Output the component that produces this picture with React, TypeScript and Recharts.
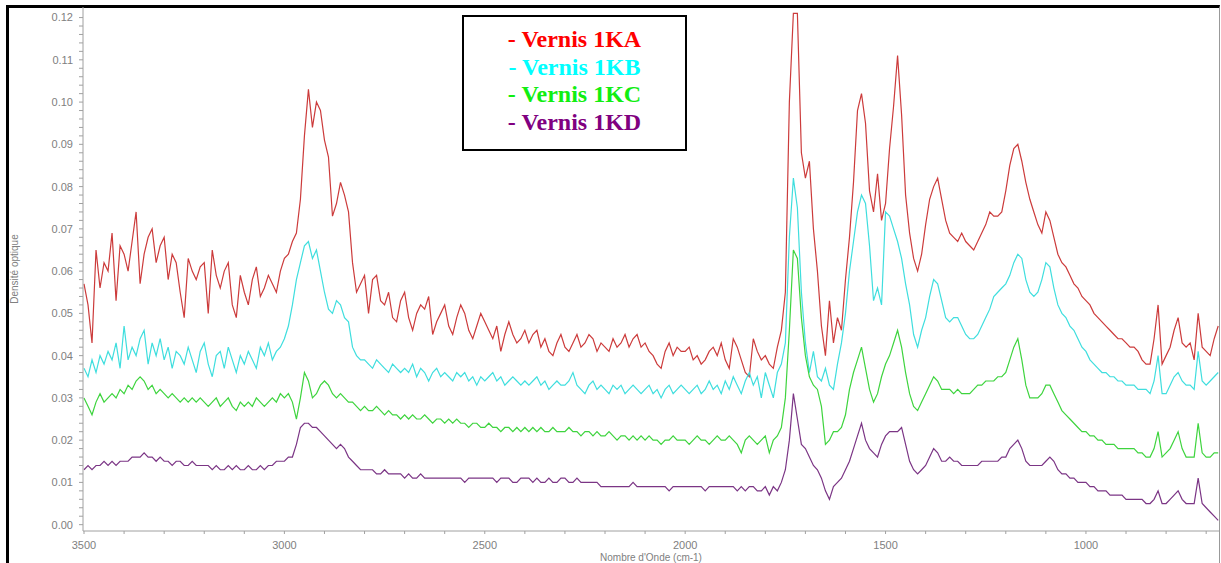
import React from "react";
import { LineChart, Line, XAxis, YAxis, Legend, Label } from "recharts";

// FTIR spectra of four varnish samples, sampled every 10 cm-1 from 3500 down to 670
const wavenumbers = Array.from({ length: 284 }, (_, i) => 3500 - i * 10);

const vernis1KA = [
  0.057, 0.052, 0.043, 0.065, 0.056, 0.062, 0.060, 0.069, 0.053, 0.066,
  0.064, 0.060, 0.067, 0.074, 0.057, 0.064, 0.068, 0.070, 0.062, 0.066,
  0.068, 0.058, 0.064, 0.062, 0.055, 0.049, 0.063, 0.060, 0.058, 0.061,
  0.062, 0.050, 0.065, 0.059, 0.056, 0.060, 0.062, 0.052, 0.049, 0.059,
  0.055, 0.052, 0.058, 0.061, 0.054, 0.056, 0.059, 0.057, 0.055, 0.060,
  0.063, 0.064, 0.067, 0.069, 0.077, 0.092, 0.103, 0.094, 0.100, 0.098,
  0.091, 0.087, 0.073, 0.076, 0.081, 0.078, 0.074, 0.062, 0.055, 0.057,
  0.059, 0.050, 0.058, 0.059, 0.053, 0.052, 0.055, 0.049, 0.048, 0.053,
  0.055, 0.049, 0.046, 0.050, 0.052, 0.051, 0.054, 0.045, 0.048, 0.050,
  0.052, 0.047, 0.045, 0.049, 0.052, 0.050, 0.046, 0.044, 0.047, 0.050,
  0.048, 0.046, 0.044, 0.047, 0.041, 0.045, 0.048, 0.045, 0.043, 0.044,
  0.046, 0.043, 0.045, 0.046, 0.042, 0.044, 0.041, 0.040, 0.043, 0.045,
  0.042, 0.041, 0.043, 0.045, 0.042, 0.043, 0.045, 0.044, 0.041, 0.043,
  0.042, 0.041, 0.044, 0.042, 0.043, 0.045, 0.042, 0.044, 0.045, 0.042,
  0.043, 0.041, 0.040, 0.038, 0.037, 0.041, 0.043, 0.040, 0.042, 0.041,
  0.041, 0.042, 0.039, 0.040, 0.038, 0.039, 0.041, 0.042, 0.040, 0.043,
  0.039, 0.037, 0.044, 0.042, 0.039, 0.036, 0.035, 0.044, 0.041, 0.039,
  0.040, 0.038, 0.037, 0.042, 0.046, 0.055, 0.100, 0.121, 0.121, 0.088,
  0.082, 0.086, 0.070, 0.060, 0.047, 0.040, 0.053, 0.043, 0.049, 0.046,
  0.058, 0.068, 0.081, 0.098, 0.102, 0.095, 0.079, 0.074, 0.083, 0.072,
  0.076, 0.089, 0.099, 0.111, 0.097, 0.078, 0.069, 0.063, 0.060, 0.064,
  0.071, 0.077, 0.080, 0.082, 0.077, 0.072, 0.069, 0.068, 0.067, 0.069,
  0.067, 0.066, 0.065, 0.067, 0.069, 0.071, 0.074, 0.073, 0.073, 0.074,
  0.079, 0.085, 0.089, 0.090, 0.086, 0.081, 0.077, 0.074, 0.071, 0.069,
  0.074, 0.072, 0.068, 0.064, 0.062, 0.061, 0.059, 0.057, 0.056, 0.054,
  0.053, 0.052, 0.050, 0.049, 0.048, 0.047, 0.046, 0.045, 0.044, 0.044,
  0.043, 0.042, 0.042, 0.041, 0.039, 0.038, 0.038, 0.044, 0.052, 0.038,
  0.040, 0.042, 0.046, 0.049, 0.043, 0.042, 0.043, 0.039, 0.050, 0.042,
  0.041, 0.040, 0.044, 0.047,
];

const vernis1KB = [
  0.037, 0.035, 0.039, 0.036, 0.040, 0.038, 0.041, 0.039, 0.043, 0.037,
  0.047, 0.039, 0.042, 0.040, 0.044, 0.046, 0.038, 0.043, 0.040, 0.044,
  0.039, 0.042, 0.037, 0.041, 0.040, 0.038, 0.042, 0.039, 0.036, 0.041,
  0.043, 0.038, 0.035, 0.040, 0.041, 0.037, 0.042, 0.039, 0.036, 0.040,
  0.038, 0.041, 0.039, 0.037, 0.042, 0.040, 0.043, 0.039, 0.041, 0.042,
  0.044, 0.047, 0.052, 0.058, 0.062, 0.066, 0.067, 0.063, 0.065, 0.060,
  0.055, 0.051, 0.050, 0.053, 0.052, 0.049, 0.048, 0.042, 0.040, 0.039,
  0.039, 0.038, 0.037, 0.039, 0.038, 0.037, 0.036, 0.038, 0.037, 0.036,
  0.037, 0.036, 0.038, 0.035, 0.037, 0.036, 0.034, 0.036, 0.037, 0.035,
  0.036, 0.035, 0.034, 0.036, 0.035, 0.036, 0.034, 0.035, 0.033, 0.035,
  0.034, 0.035, 0.036, 0.034, 0.035, 0.033, 0.034, 0.035, 0.034, 0.033,
  0.034, 0.033, 0.034, 0.035, 0.033, 0.034, 0.032, 0.033, 0.034, 0.033,
  0.033, 0.034, 0.036, 0.033, 0.032, 0.031, 0.033, 0.034, 0.032, 0.033,
  0.032, 0.031, 0.033, 0.032, 0.033, 0.031, 0.032, 0.033, 0.032, 0.031,
  0.032, 0.033, 0.031, 0.032, 0.030, 0.032, 0.033, 0.031, 0.032, 0.033,
  0.032, 0.031, 0.032, 0.033, 0.031, 0.032, 0.034, 0.032, 0.033, 0.031,
  0.034, 0.032, 0.035, 0.033, 0.031, 0.034, 0.036, 0.033, 0.035, 0.030,
  0.036, 0.033, 0.030, 0.036, 0.038, 0.043, 0.068, 0.082, 0.075, 0.055,
  0.043, 0.036, 0.041, 0.035, 0.034, 0.037, 0.033, 0.032, 0.038, 0.043,
  0.050, 0.060, 0.067, 0.074, 0.078, 0.076, 0.066, 0.053, 0.056, 0.052,
  0.074, 0.073, 0.070, 0.067, 0.063, 0.057, 0.052, 0.045, 0.042, 0.046,
  0.049, 0.054, 0.058, 0.057, 0.053, 0.049, 0.048, 0.049, 0.049, 0.047,
  0.045, 0.044, 0.044, 0.045, 0.047, 0.049, 0.051, 0.054, 0.055, 0.056,
  0.057, 0.059, 0.062, 0.064, 0.063, 0.058, 0.055, 0.054, 0.055, 0.058,
  0.062, 0.061, 0.056, 0.052, 0.050, 0.049, 0.047, 0.046, 0.044, 0.042,
  0.041, 0.039, 0.038, 0.037, 0.036, 0.036, 0.035, 0.035, 0.034, 0.034,
  0.033, 0.033, 0.033, 0.032, 0.032, 0.032, 0.031, 0.034, 0.040, 0.031,
  0.031, 0.033, 0.035, 0.036, 0.034, 0.033, 0.033, 0.032, 0.041, 0.034,
  0.033, 0.034, 0.035, 0.036,
];

const vernis1KC = [
  0.030, 0.028, 0.026, 0.029, 0.031, 0.029, 0.030, 0.031, 0.030, 0.032,
  0.031, 0.033, 0.032, 0.034, 0.035, 0.034, 0.032, 0.033, 0.031, 0.032,
  0.031, 0.030, 0.031, 0.030, 0.029, 0.030, 0.029, 0.030, 0.029, 0.030,
  0.029, 0.028, 0.029, 0.030, 0.028, 0.029, 0.030, 0.028, 0.027, 0.029,
  0.028, 0.029, 0.028, 0.030, 0.029, 0.028, 0.029, 0.030, 0.029, 0.031,
  0.030, 0.031, 0.029, 0.025, 0.030, 0.036, 0.034, 0.030, 0.031, 0.033,
  0.034, 0.033, 0.031, 0.030, 0.031, 0.030, 0.029, 0.029, 0.028, 0.027,
  0.028, 0.027, 0.027, 0.028, 0.027, 0.026, 0.027, 0.026, 0.026, 0.025,
  0.026, 0.025, 0.026, 0.025, 0.025, 0.026, 0.025, 0.024, 0.025, 0.025,
  0.024, 0.025, 0.024, 0.025, 0.024, 0.024, 0.023, 0.024, 0.024, 0.023,
  0.023, 0.024, 0.023, 0.023, 0.022, 0.023, 0.023, 0.022, 0.023, 0.022,
  0.023, 0.022, 0.023, 0.022, 0.023, 0.022, 0.022, 0.023, 0.022, 0.022,
  0.022, 0.023, 0.022, 0.022, 0.021, 0.022, 0.022, 0.021, 0.022, 0.021,
  0.021, 0.022, 0.021, 0.020, 0.021, 0.021, 0.020, 0.021, 0.020, 0.021,
  0.020, 0.021, 0.020, 0.020, 0.019, 0.020, 0.020, 0.021, 0.020, 0.020,
  0.020, 0.019, 0.020, 0.021, 0.020, 0.020, 0.019, 0.020, 0.021, 0.020,
  0.020, 0.021, 0.020, 0.019, 0.017, 0.020, 0.021, 0.020, 0.019, 0.020,
  0.021, 0.017, 0.020, 0.021, 0.023, 0.030, 0.046, 0.065, 0.063, 0.049,
  0.040, 0.035, 0.033, 0.032, 0.028, 0.019, 0.020, 0.022, 0.022, 0.023,
  0.026, 0.032, 0.036, 0.039, 0.042, 0.037, 0.032, 0.029, 0.031, 0.035,
  0.038, 0.040, 0.043, 0.046, 0.042, 0.036, 0.031, 0.028, 0.027, 0.029,
  0.031, 0.033, 0.035, 0.034, 0.032, 0.032, 0.032, 0.031, 0.032, 0.031,
  0.031, 0.031, 0.032, 0.033, 0.033, 0.034, 0.034, 0.034, 0.035, 0.035,
  0.036, 0.039, 0.042, 0.044, 0.039, 0.033, 0.030, 0.030, 0.030, 0.031,
  0.033, 0.033, 0.031, 0.029, 0.027, 0.026, 0.025, 0.024, 0.023, 0.022,
  0.022, 0.021, 0.021, 0.020, 0.020, 0.019, 0.019, 0.019, 0.018, 0.018,
  0.018, 0.018, 0.018, 0.017, 0.017, 0.016, 0.016, 0.018, 0.022, 0.016,
  0.017, 0.018, 0.020, 0.022, 0.018, 0.016, 0.016, 0.016, 0.024, 0.017,
  0.016, 0.016, 0.017, 0.017,
];

const vernis1KD = [
  0.013, 0.014, 0.013, 0.014, 0.014, 0.015, 0.014, 0.015, 0.014, 0.015,
  0.015, 0.015, 0.016, 0.016, 0.016, 0.017, 0.016, 0.016, 0.015, 0.016,
  0.015, 0.015, 0.014, 0.015, 0.015, 0.014, 0.014, 0.015, 0.014, 0.014,
  0.014, 0.014, 0.013, 0.014, 0.013, 0.013, 0.014, 0.013, 0.014, 0.013,
  0.013, 0.014, 0.013, 0.013, 0.014, 0.013, 0.014, 0.014, 0.015, 0.015,
  0.015, 0.016, 0.016, 0.019, 0.023, 0.024, 0.024, 0.023, 0.023, 0.022,
  0.021, 0.020, 0.019, 0.018, 0.019, 0.018, 0.016, 0.015, 0.014, 0.013,
  0.013, 0.013, 0.013, 0.012, 0.012, 0.013, 0.012, 0.012, 0.012, 0.012,
  0.011, 0.012, 0.011, 0.011, 0.012, 0.011, 0.011, 0.011, 0.011, 0.011,
  0.011, 0.011, 0.011, 0.011, 0.011, 0.010, 0.011, 0.011, 0.011, 0.011,
  0.011, 0.011, 0.011, 0.010, 0.011, 0.011, 0.011, 0.010, 0.010, 0.011,
  0.011, 0.011, 0.010, 0.011, 0.010, 0.010, 0.011, 0.010, 0.010, 0.011,
  0.011, 0.010, 0.010, 0.011, 0.010, 0.010, 0.010, 0.010, 0.010, 0.009,
  0.009, 0.009, 0.009, 0.009, 0.009, 0.009, 0.009, 0.010, 0.009, 0.009,
  0.009, 0.009, 0.009, 0.009, 0.009, 0.009, 0.008, 0.009, 0.009, 0.009,
  0.009, 0.009, 0.009, 0.009, 0.009, 0.008, 0.009, 0.009, 0.009, 0.009,
  0.009, 0.009, 0.009, 0.008, 0.009, 0.008, 0.009, 0.009, 0.008, 0.008,
  0.009, 0.007, 0.009, 0.008, 0.010, 0.013, 0.020, 0.031, 0.025, 0.019,
  0.018, 0.016, 0.014, 0.013, 0.011, 0.008, 0.006, 0.009, 0.010, 0.011,
  0.013, 0.015, 0.018, 0.021, 0.024, 0.020, 0.018, 0.017, 0.016, 0.019,
  0.021, 0.022, 0.022, 0.022, 0.023, 0.019, 0.015, 0.013, 0.012, 0.013,
  0.014, 0.016, 0.018, 0.017, 0.015, 0.015, 0.016, 0.015, 0.015, 0.014,
  0.014, 0.014, 0.014, 0.014, 0.015, 0.015, 0.015, 0.015, 0.015, 0.016,
  0.016, 0.018, 0.019, 0.020, 0.018, 0.015, 0.014, 0.014, 0.014, 0.014,
  0.015, 0.016, 0.015, 0.013, 0.012, 0.012, 0.011, 0.011, 0.010, 0.010,
  0.010, 0.009, 0.009, 0.008, 0.008, 0.008, 0.007, 0.007, 0.007, 0.007,
  0.006, 0.006, 0.006, 0.006, 0.006, 0.005, 0.005, 0.006, 0.008, 0.005,
  0.005, 0.006, 0.007, 0.008, 0.006, 0.005, 0.005, 0.005, 0.011, 0.005,
  0.004, 0.003, 0.002, 0.001,
];

const seriesNames = ["Vernis 1KA", "Vernis 1KB", "Vernis 1KC", "Vernis 1KD"];
const lineColors = ["#cc3b3b", "#3fdede", "#3ed43e", "#7b3585"];
const legendColors = ["#ff0000", "#00ffff", "#11ee11", "#800080"];

const xTicks = [
  3500, 3400, 3300, 3200, 3100, 3000, 2900, 2800, 2700, 2600, 2500, 2400, 2300, 2200,
  2100, 2000, 1900, 1800, 1700, 1600, 1500, 1400, 1300, 1200, 1100, 1000, 900, 800, 700,
];
const yMajorTicks = [0, 0.01, 0.02, 0.03, 0.04, 0.05, 0.06, 0.07, 0.08, 0.09, 0.1, 0.11, 0.12];

// minor ticks every 0.002 between the labelled ones
const yTicks = yMajorTicks.flatMap((t, i) =>
  i === yMajorTicks.length - 1
    ? [t]
    : [0, 0.002, 0.004, 0.006, 0.008].map((d) => Math.round((t + d) * 1000) / 1000)
);

const data = wavenumbers.map((wn, i) => ({
  wn,
  ka: vernis1KA[i],
  kb: vernis1KB[i],
  kc: vernis1KC[i],
  kd: vernis1KD[i],
}));

const axisFont = { fontFamily: '"Liberation Sans", Arial, sans-serif', fontSize: 11, fill: "#808080" };

const renderLegend = (props: any) => {
  const { payload = [] } = props;
  return (
    <div
      style={{
        boxSizing: "border-box",
        width: 225,
        height: 136,
        border: "2px solid #000",
        background: "#fff",
        paddingTop: 9,
        fontFamily: '"Liberation Serif", "Times New Roman", serif',
        fontWeight: "bold",
        fontSize: 24,
        lineHeight: "27.7px",
        textAlign: "center",
      }}
    >
      {payload.map((p: any, i: number) => (
        <div key={i} style={{ color: legendColors[i] }}>
          - {p.value}
        </div>
      ))}
    </div>
  );
};

export default function App() {
  return (
    <div style={{ position: "absolute", left: 0, top: 0, width: 1221, height: 563, overflow: "hidden", background: "#fff" }}>
      <div
        style={{
          position: "absolute",
          left: 6,
          top: 5,
          width: 1210,
          height: 600,
          borderLeft: "3px solid #000",
          borderTop: "3px solid #000",
          borderRight: "1px solid #999",
        }}
      />
      <div style={{ position: "absolute", left: 0, top: 0 }}>
        <LineChart width={1221} height={563} data={data} margin={{ top: 7, right: 2, bottom: 0, left: 0 }}>
          <XAxis
            type="number"
            dataKey="wn"
            domain={[668, 3502.5]}
            reversed
            ticks={xTicks}
            interval={0}
            tickFormatter={(v: number) => (v % 500 === 0 ? String(v) : "")}
            height={32}
            tickSize={3}
            tickMargin={7}
            stroke="#a0a0a0"
            tick={axisFont}
            allowDataOverflow
          >
            <Label value="Nombre d'Onde (cm-1)" position="insideBottom" offset={2} style={{ ...axisFont, fontSize: 10 }} />
          </XAxis>
          <YAxis
            type="number"
            domain={[-0.0015, 0.1225]}
            ticks={yTicks}
            interval={0}
            tickFormatter={(v: number) => (Math.round(v * 1000) % 10 === 0 ? v.toFixed(2) : "")}
            width={83}
            tickSize={4}
            tickMargin={6}
            stroke="#a0a0a0"
            tick={axisFont}
            allowDataOverflow
          >
            <Label
              value="Densité optique"
              angle={-90}
              position="insideLeft"
              offset={14}
              style={{ ...axisFont, fontSize: 10, textAnchor: "middle" }}
            />
          </YAxis>
          <Legend
            layout="vertical"
            align="center"
            verticalAlign="middle"
            content={renderLegend}
            wrapperStyle={{ left: 462, top: 15, width: 225, height: 136 }}
          />
          {["ka", "kb", "kc", "kd"].map((key, i) => (
            <Line
              key={key}
              type="linear"
              dataKey={key}
              name={seriesNames[i]}
              stroke={lineColors[i]}
              strokeWidth={1.2}
              dot={false}
              isAnimationActive={false}
            />
          ))}
        </LineChart>
      </div>
    </div>
  );
}
